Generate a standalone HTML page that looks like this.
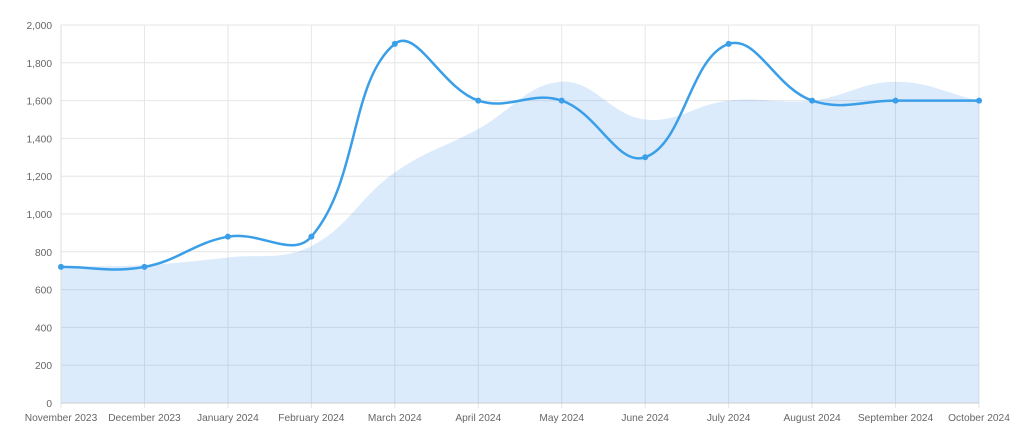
<!DOCTYPE html>
<html><head><meta charset="utf-8"><style>
html,body{margin:0;padding:0;background:#fff;width:1024px;height:435px;overflow:hidden}
svg{display:block}
text{font-family:"Liberation Sans",sans-serif;font-size:10.2px;fill:#666}
</style></head><body>
<svg id="c" width="1024" height="435" xmlns="http://www.w3.org/2000/svg"></svg>
<script>
const svg=document.getElementById('c');
const L=61,R=979,T=25,B=403;
const labels=["November 2023","December 2023","January 2024","February 2024","March 2024","April 2024","May 2024","June 2024","July 2024","August 2024","September 2024","October 2024"];
const line=[720,720,880,880,1900,1600,1600,1300,1900,1600,1600,1600];
const area=[720,730,770,830,1220,1450,1700,1500,1600,1600,1700,1600];
const X=i=>L+i*(R-L)/11, Y=v=>B-v*(B-T)/2000;
let h='';
for(let v=0;v<=2000;v+=200){const y=Y(v);h+=`<line x1="${L}" x2="${R}" y1="${y}" y2="${y}" stroke="#e6e6e6"/>`;
h+=`<text x="${L-9}" y="${y+4}" text-anchor="end">${v.toLocaleString('en-US')}</text>`;}
for(let i=0;i<12;i++){const x=X(i);h+=`<line x1="${x}" x2="${x}" y1="${T}" y2="${B+5}" stroke="#e6e6e6"/>`;
h+=`<text x="${x}" y="${B+18}" text-anchor="middle">${labels[i]}</text>`;}
function path(d){const p=d.map((v,i)=>[X(i),Y(v)]);const t=0.4;const cps=p.map((c,i)=>{const a=p[i-1]||c,n=p[i+1]||c;
const d01=Math.hypot(c[0]-a[0],c[1]-a[1]),d12=Math.hypot(n[0]-c[0],n[1]-c[1]);let s01=d01/(d01+d12)||0,s12=d12/(d01+d12)||0;
const fa=t*s01,fb=t*s12;return[[c[0]-fa*(n[0]-a[0]),c[1]-fa*(n[1]-a[1])],[c[0]+fb*(n[0]-a[0]),c[1]+fb*(n[1]-a[1])]];});
let s=`M${p[0][0]},${p[0][1]}`;for(let i=1;i<p.length;i++){const c1=cps[i-1][1],c2=cps[i][0];s+=` C${c1[0]},${c1[1]} ${c2[0]},${c2[1]} ${p[i][0]},${p[i][1]}`;}return s;}
h+=`<path d="${path(area)} L${R},${B} L${L},${B} Z" fill="rgba(54,146,235,0.18)"/>`;
h+=`<line x1="${L}" x2="${R}" y1="${B}" y2="${B}" stroke="#ccc"/><line x1="${L}" x2="${L}" y1="${T}" y2="${B}" stroke="#ddd"/>`;
h+=`<path d="${path(line)}" fill="none" stroke="#3a9fe8" stroke-width="2.5"/>`;
line.forEach((v,i)=>{h+=`<circle cx="${X(i)}" cy="${Y(v)}" r="3" fill="#3a9fe8"/>`;});
svg.innerHTML=h;
</script>
</body></html>
